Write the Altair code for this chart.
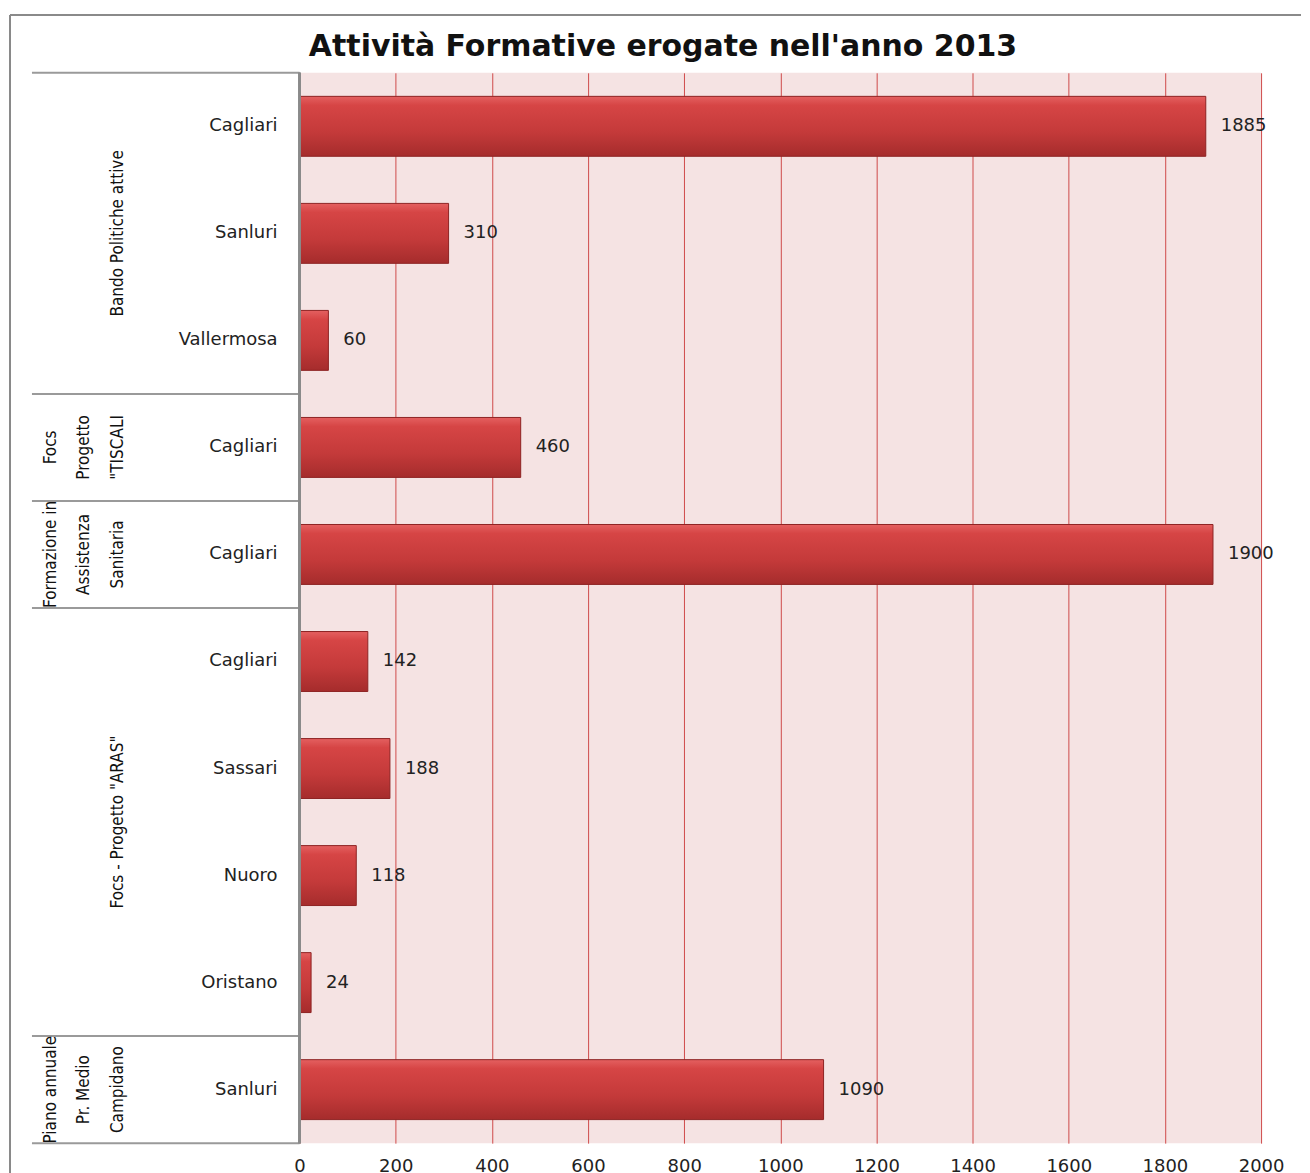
import altair as alt
import pandas as pd

# ---- data ----
cities = ["Cagliari", "Sanluri", "Vallermosa", "Cagliari", "Cagliari",
          "Cagliari", "Sassari", "Nuoro", "Oristano", "Sanluri"]
values = [1885, 310, 60, 460, 1900, 142, 188, 118, 24, 1090]

group_names = ["Bando Politiche attive", "Focs Progetto TISCALI",
               "Formazione in Assistenza Sanitaria", "Focs - Progetto ARAS",
               "Piano annuale Pr. Medio Campidano"]
group_lines = [["Bando Politiche attive"],
               ["Focs", "Progetto", '"TISCALI'],
               ["Formazione in", "Assistenza", "Sanitaria"],
               ['Focs - Progetto "ARAS"'],
               ["Piano annuale", "Pr. Medio", "Campidano"]]
group_start = [0, 3, 4, 5, 9]
group_size = [3, 1, 1, 4, 1]
x_ticks = [0, 200, 400, 600, 800, 1000, 1200, 1400, 1600, 1800, 2000]
title_text = ["Attività Formative erogate nell'anno 2013"]

W, H = 963, 1072
NARROW = "Liberation Sans Narrow, DejaVu Sans Condensed, Roboto Condensed, Arial Narrow, sans-serif"

rows = pd.DataFrame({
    "key": [f"r{i}" for i in range(len(cities))],
    "city": cities,
    "value": values,
})
order = list(rows["key"])

glab = []
for name, lines, s, n in zip(group_names, group_lines, group_start, group_size):
    k = len(lines)
    for j, t in enumerate(lines):
        glab.append({"group": name, "text": t, "mid": s + n / 2.0,
                     "fromRight": k - 1 - j})
glab = pd.DataFrame(glab)

seps = sorted(set(group_start + [s + n for s, n in zip(group_start, group_size)]))
sep_df = pd.DataFrame({"pos": seps})
title_df = pd.DataFrame({"t": title_text})

xscale = alt.Scale(domain=[0, 2000], nice=False)
yband = alt.Y("key:N", sort=order, axis=None,
              scale=alt.Scale(paddingInner=0.44, paddingOuter=0.22))

grad = alt.Gradient(
    gradient="linear",
    stops=[alt.GradientStop(color="#e46060", offset=0),
           alt.GradientStop(color="#d64545", offset=0.15),
           alt.GradientStop(color="#c43a3a", offset=0.6),
           alt.GradientStop(color="#a52c2c", offset=1)],
    x1=0, x2=0, y1=0, y2=1)

base = alt.Chart(rows)

bars = base.mark_bar(color=grad, stroke="#8e2323", strokeWidth=1).encode(
    x=alt.X("value:Q", scale=xscale,
            axis=alt.Axis(values=x_ticks, format="d", grid=True,
                          gridColor="#cf4a4a", gridWidth=1, domain=False,
                          ticks=False, labelFlush=False,
                          labelFont="DejaVu Sans", labelFontSize=18,
                          labelColor="#222", labelPadding=14, title=None,
                          orient="bottom")),
    y=yband,
)

val_labels = base.mark_text(align="left", baseline="middle", dx=15,
                            font="DejaVu Sans", fontSize=18, color="#222").encode(
    x=alt.X("value:Q", scale=xscale),
    y=yband,
    text="value:Q",
)

city_labels = base.mark_text(align="right", baseline="middle",
                             font="DejaVu Sans", fontSize=18, color="#222").encode(
    x=alt.value(-22),
    y=yband,
    text="city:N",
)

yq = alt.Scale(domain=[0, 10], reverse=True, nice=False, zero=False)

sep_rules = alt.Chart(sep_df).mark_rule(color="#9a9a9a", strokeWidth=2).encode(
    x=alt.value(-268), x2=alt.value(0),
    y=alt.Y("pos:Q", scale=yq, axis=None),
)

left_axis = alt.Chart(sep_df).mark_rule(color="#8a8a8a", strokeWidth=2).encode(
    x=alt.value(0), y=alt.value(0), y2=alt.value(H),
)

glayers = []
for fr, xp in [(0, -182), (1, -216), (2, -249)]:
    glayers.append(
        alt.Chart(glab).transform_filter(alt.datum.fromRight == fr)
        .mark_text(angle=270, align="center", baseline="middle",
                   font=NARROW, fontSize=17, color="#111")
        .encode(x=alt.value(xp), y=alt.Y("mid:Q", scale=yq, axis=None),
                text="text:N")
    )

border_v = alt.Chart(sep_df).mark_rule(color="#8a8a8a", strokeWidth=2).encode(
    x=alt.value(-290), y=alt.value(-58), y2=alt.value(H + 40),
)
border_h = alt.Chart(sep_df).mark_rule(color="#8a8a8a", strokeWidth=2).encode(
    x=alt.value(-290), x2=alt.value(W + 40), y=alt.value(-58),
)

title = alt.Chart(title_df).mark_text(
    font="DejaVu Sans", fontSize=30, fontWeight="bold", color="#111",
    align="center", baseline="middle").encode(
    x=alt.value(364), y=alt.value(-26), text="t:N")

bar_layer = alt.layer(bars, val_labels, city_labels)
group_layer = alt.layer(sep_rules, *glayers)

chart = alt.layer(bar_layer, group_layer, left_axis, border_v, border_h, title).resolve_scale(
    y="independent"
).properties(
    width=W, height=H,
    padding={"left": 1, "top": 5, "right": 0, "bottom": 0},
).configure_view(fill="#f5e3e3", stroke=None)

chart.save("out.html", embed_options={"renderer": "svg", "actions": False})
